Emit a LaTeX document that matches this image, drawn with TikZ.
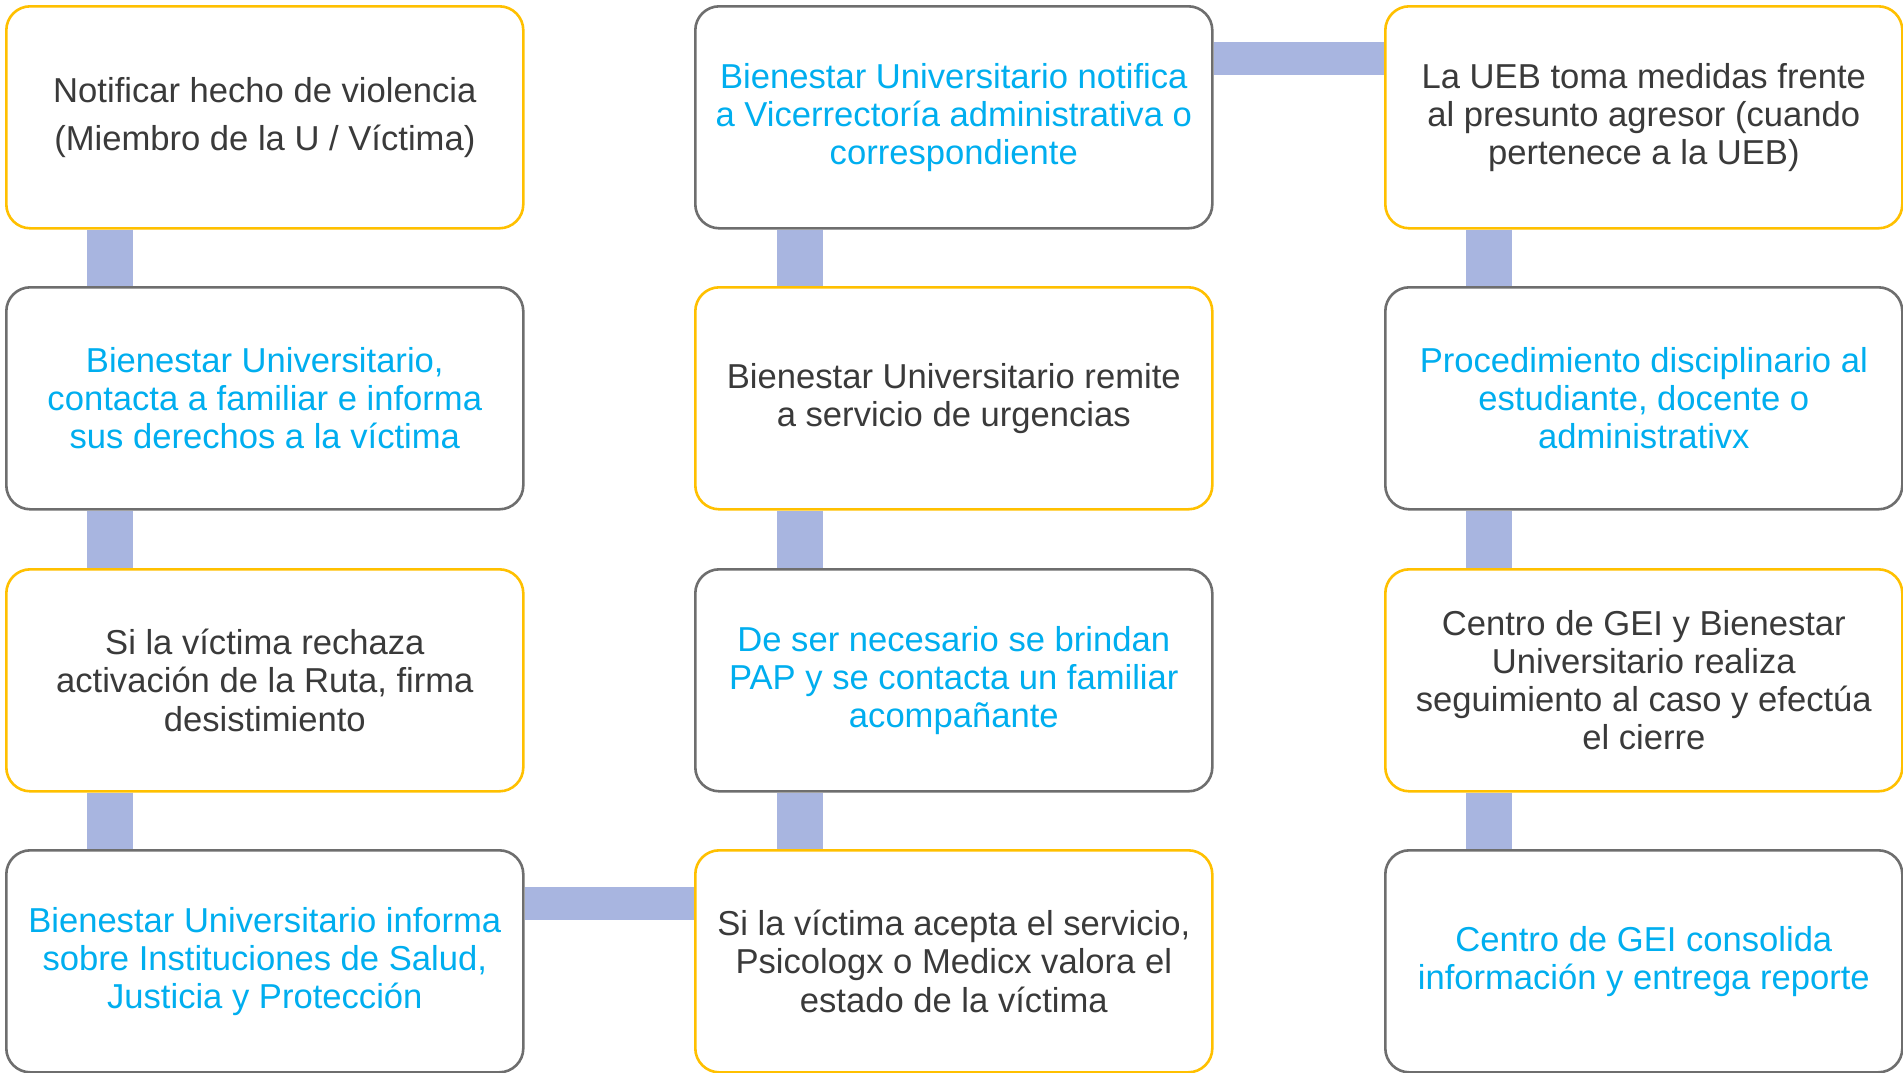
\documentclass[tikz,border=0pt]{standalone}
\usepackage{fontspec}
\setmainfont{Liberation Sans}
\usetikzlibrary{backgrounds}
\definecolor{boxyellow}{HTML}{FFC000}
\definecolor{boxgray}{HTML}{6E6E6E}
\definecolor{txtdark}{HTML}{3A3A3A}
\definecolor{txtblue}{HTML}{00AEEF}
\definecolor{barblue}{HTML}{A8B5E0}
\tikzset{
  stepbox/.style={draw, line width=2.6pt, rounded corners=24pt, fill=white,
    minimum width=517pt, minimum height=222pt, anchor=north west, inner sep=0pt,
    align=center, font=\fontsize{34.6}{38.2}\selectfont},
  ybox/.style={stepbox, draw=boxyellow, text=txtdark},
  gbox/.style={stepbox, draw=boxgray, text=txtblue},
  vbar/.style={draw=barblue, line width=46pt, line cap=butt},
  hbar/.style={draw=barblue, line width=33pt, line cap=butt}
}
\begin{document}
\begin{tikzpicture}[x=1pt,y=-1pt]
\useasboundingbox (0,0) rectangle (1903,1072);
% column 1
\node[ybox] (a1) at (5,5) {Notificar hecho de violencia\\[10pt](Miembro de la U / Víctima)};
\node[gbox] (a2) at (5,286) {Bienestar Universitario,\\contacta a familiar e informa\\sus derechos a la víctima};
\node[ybox] (a3) at (5,568) {Si la víctima rechaza\\activación de la Ruta, firma\\desistimiento};
\node[gbox] (a4) at (5,849) {Bienestar Universitario informa\\sobre Instituciones de Salud,\\Justicia y Protección};
% column 2
\node[gbox] (b1) at (694,5) {Bienestar Universitario notifica\\a Vicerrectoría administrativa o\\correspondiente};
\node[ybox] (b2) at (694,286) {Bienestar Universitario remite\\a servicio de urgencias};
\node[gbox] (b3) at (694,568) {De ser necesario se brindan\\PAP y se contacta un familiar\\acompañante};
\node[ybox] (b4) at (694,849) {Si la víctima acepta el servicio,\\Psicologx o Medicx valora el\\estado de la víctima};
% column 3
\node[ybox] (c1) at (1384,5) {La UEB toma medidas frente\\al presunto agresor (cuando\\pertenece a la UEB)};
\node[gbox] (c2) at (1384,286) {Procedimiento disciplinario al\\estudiante, docente o\\administrativx};
\node[ybox] (c3) at (1384,568) {Centro de GEI y Bienestar\\Universitario realiza\\seguimiento al caso y efectúa\\el cierre};
\node[gbox] (c4) at (1384,849) {Centro de GEI consolida\\información y entrega reporte};
\begin{pgfonlayer}{background}
\draw[vbar] ([xshift=105pt]a1.south west) -- ([xshift=105pt]a2.north west);
\draw[vbar] ([xshift=105pt]a2.south west) -- ([xshift=105pt]a3.north west);
\draw[vbar] ([xshift=105pt]a3.south west) -- ([xshift=105pt]a4.north west);
\draw[vbar] ([xshift=106pt]b1.south west) -- ([xshift=106pt]b2.north west);
\draw[vbar] ([xshift=106pt]b2.south west) -- ([xshift=106pt]b3.north west);
\draw[vbar] ([xshift=106pt]b3.south west) -- ([xshift=106pt]b4.north west);
\draw[vbar] ([xshift=105pt]c1.south west) -- ([xshift=105pt]c2.north west);
\draw[vbar] ([xshift=105pt]c2.south west) -- ([xshift=105pt]c3.north west);
\draw[vbar] ([xshift=105pt]c3.south west) -- ([xshift=105pt]c4.north west);
\draw[hbar] ([yshift=-53pt]b1.north east) -- ([yshift=-53pt]c1.north west);
\draw[hbar] ([yshift=-54pt]a4.north east) -- ([yshift=-54pt]b4.north west);
\end{pgfonlayer}
\end{tikzpicture}
\end{document}
